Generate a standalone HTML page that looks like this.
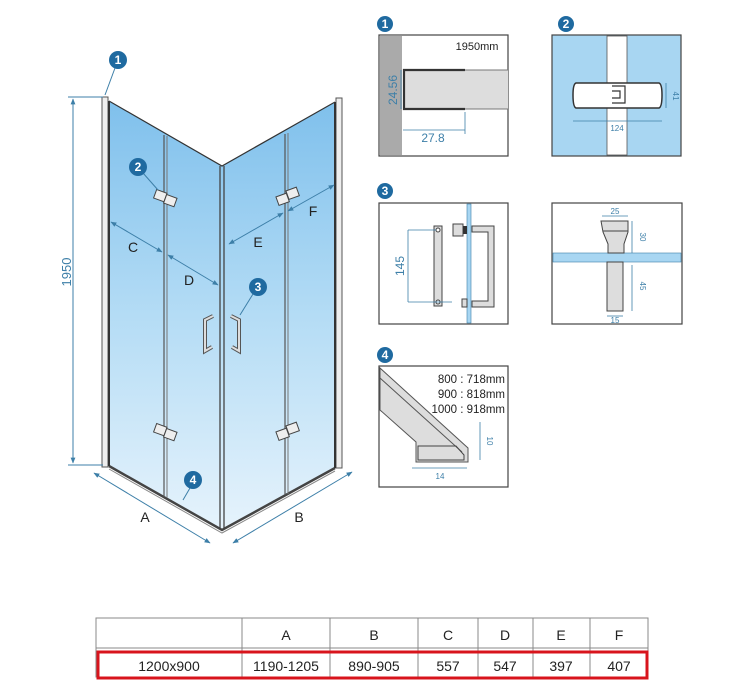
<!DOCTYPE html>
<html><head><meta charset="utf-8"><style>
html,body{margin:0;padding:0;background:#fff;}
svg{display:block;font-family:"Liberation Sans",Arial,sans-serif;}
</style></head><body>
<svg width="734" height="700" viewBox="0 0 734 700" xmlns="http://www.w3.org/2000/svg">
<defs>
<linearGradient id="g" x1="0" y1="0" x2="0" y2="1">
<stop offset="0" stop-color="#7fc0ec"/><stop offset="0.5" stop-color="#b4dcf5"/><stop offset="1" stop-color="#e6f3fc"/>
</linearGradient>
<marker id="ar" viewBox="0 0 10 10" refX="9" refY="5" markerWidth="6" markerHeight="6" orient="auto-start-reverse"><path d="M0,1 L10,5 L0,9 z" fill="#3d7fa8"/></marker>
</defs>

<!-- glass panels -->
<polygon points="109,101 222,166 222,530 109,466" fill="url(#g)"/>
<polygon points="222,166 335,102 335,468 222,530" fill="url(#g)"/>
<polyline points="109,101 222,166 335,102" fill="none" stroke="#333" stroke-width="1.2"/>
<polyline points="109,466 222,530 335,468" fill="none" stroke="#444" stroke-width="2.5"/>
<polyline points="109,469 222,533 335,471" fill="none" stroke="#888" stroke-width="1"/>
<!-- posts -->
<rect x="102" y="97" width="6" height="370" fill="#eee" stroke="#555" stroke-width="1"/>
<line x1="109" y1="101" x2="109" y2="466" stroke="#333" stroke-width="2"/>
<rect x="336" y="98" width="6" height="370" fill="#eee" stroke="#555" stroke-width="1"/>
<line x1="335" y1="102" x2="335" y2="468" stroke="#333" stroke-width="2"/>
<!-- center -->
<line x1="220" y1="166" x2="220" y2="529" stroke="#444" stroke-width="1.3"/>
<line x1="224" y1="166" x2="224" y2="529" stroke="#444" stroke-width="1.3"/>
<!-- fold lines -->
<line x1="164" y1="135" x2="164" y2="497" stroke="#555" stroke-width="1.2"/>
<line x1="167" y1="136" x2="167" y2="498" stroke="#777" stroke-width="1"/>
<line x1="285" y1="134" x2="285" y2="495" stroke="#555" stroke-width="1.2"/>
<line x1="288" y1="133" x2="288" y2="494" stroke="#777" stroke-width="1"/>
<!-- hinges -->
<g fill="#eee" stroke="#444" stroke-width="1">
<rect x="155" y="191" width="11" height="9" transform="rotate(20 160 195)"/>
<rect x="165" y="196" width="11" height="9" transform="rotate(20 170 200)"/>
<rect x="155" y="425" width="11" height="9" transform="rotate(20 160 429)"/>
<rect x="165" y="430" width="11" height="9" transform="rotate(20 170 434)"/>
<rect x="277" y="195" width="11" height="9" transform="rotate(-20 282 199)"/>
<rect x="287" y="189" width="11" height="9" transform="rotate(-20 292 193)"/>
<rect x="277" y="430" width="11" height="9" transform="rotate(-20 282 434)"/>
<rect x="287" y="424" width="11" height="9" transform="rotate(-20 292 428)"/>
</g>
<!-- handles -->
<path d="M213,316 L205,320 L205,351 L212,347" fill="none" stroke="#555" stroke-width="4"/>
<path d="M213,316 L205,320 L205,351 L212,347" fill="none" stroke="#ddd" stroke-width="2"/>
<path d="M231,316 L239,320 L239,351 L232,347" fill="none" stroke="#555" stroke-width="4"/>
<path d="M231,316 L239,320 L239,351 L232,347" fill="none" stroke="#ddd" stroke-width="2"/>

<!-- dimension 1950 -->
<g stroke="#3d7fa8" stroke-width="1">
<line x1="68" y1="97" x2="103" y2="97"/><line x1="68" y1="465" x2="103" y2="465"/>
<line x1="73" y1="99" x2="73" y2="463" marker-start="url(#ar)" marker-end="url(#ar)"/>
<line x1="94" y1="473" x2="210" y2="543" marker-start="url(#ar)" marker-end="url(#ar)"/>
<line x1="233" y1="543" x2="352" y2="472" marker-start="url(#ar)" marker-end="url(#ar)"/>
<line x1="111" y1="222" x2="162" y2="252" marker-start="url(#ar)" marker-end="url(#ar)"/>
<line x1="168" y1="255" x2="218" y2="285" marker-start="url(#ar)" marker-end="url(#ar)"/>
<line x1="229" y1="244" x2="283" y2="213" marker-start="url(#ar)" marker-end="url(#ar)"/>
<line x1="288" y1="211" x2="334" y2="185" marker-start="url(#ar)" marker-end="url(#ar)"/>
</g>
<text x="0" y="0" transform="translate(71,272) rotate(-90)" font-size="13" fill="#3d7fa8" text-anchor="middle">1950</text>
<g font-size="14" fill="#222" text-anchor="middle">
<text x="145" y="522">A</text><text x="299" y="522">B</text>
<text x="133" y="252">C</text><text x="189" y="285">D</text>
<text x="258" y="247">E</text><text x="313" y="216">F</text>
</g>
<!-- callouts -->
<g stroke="#3d7fa8" stroke-width="1">
<line x1="115" y1="68" x2="105" y2="95"/><line x1="143" y1="173" x2="158" y2="190"/>
<line x1="253" y1="294" x2="240" y2="315"/><line x1="190" y1="488" x2="183" y2="500"/>
</g>
<g fill="#1f6aa0">
<circle cx="118" cy="60" r="9"/><circle cx="138" cy="167" r="9"/>
<circle cx="258" cy="287" r="9"/><circle cx="193" cy="480" r="9"/>
<circle cx="385" cy="24" r="8"/><circle cx="566" cy="24" r="8"/>
<circle cx="385" cy="191" r="8"/><circle cx="385" cy="355" r="8"/>
</g>
<g fill="#fff" font-size="12" font-weight="bold" text-anchor="middle">
<text x="118" y="64">1</text><text x="138" y="171">2</text><text x="258" y="291">3</text><text x="193" y="484">4</text>
<text x="385" y="28">1</text><text x="566" y="28">2</text><text x="385" y="195">3</text><text x="385" y="359">4</text>
</g>

<!-- panel 1 -->
<rect x="379" y="35" width="129" height="121" fill="#fff" stroke="#444" stroke-width="1.2"/>
<rect x="380" y="36" width="22" height="119" fill="#aaa"/>
<rect x="405" y="70" width="103" height="39" fill="#ddd"/>
<line x1="405" y1="70" x2="508" y2="70" stroke="#777"/>
<line x1="405" y1="109" x2="508" y2="109" stroke="#777"/>
<path d="M465,70 L404,70 L404,109 L465,109" fill="none" stroke="#333" stroke-width="2.2"/>
<text x="477" y="50" font-size="11" fill="#222" text-anchor="middle">1950mm</text>
<g stroke="#3d7fa8" stroke-width="0.8"><line x1="401" y1="70" x2="401" y2="109"/><line x1="403" y1="130" x2="465" y2="130"/><line x1="465" y1="112" x2="465" y2="134"/></g>
<text transform="translate(397,90) rotate(-90)" font-size="12" fill="#3d7fa8" text-anchor="middle">24.56</text>
<text x="433" y="142" font-size="12" fill="#3d7fa8" text-anchor="middle">27.8</text>

<!-- panel 2 -->
<rect x="552" y="35" width="129" height="121" fill="#a8d6f2" stroke="#444" stroke-width="1.2"/>
<rect x="607" y="36" width="20" height="119" fill="#fff" stroke="#555" stroke-width="0.8"/>
<path d="M576,83 Q573,84 573,95 Q573,107 576,108 L659,108 Q662,107 662,95 Q662,84 659,83 Z" fill="#fff" stroke="#333" stroke-width="1.5"/>
<path d="M612,86 L625,86 L625,103 L612,103 M612,91 L620,91 L620,98 L612,98" fill="none" stroke="#333" stroke-width="1.2"/>
<g stroke="#3d7fa8" stroke-width="0.8"><line x1="573" y1="121" x2="662" y2="121"/><line x1="666" y1="83" x2="666" y2="108"/></g>
<text x="617" y="131" font-size="8" fill="#3d7fa8" text-anchor="middle">124</text>
<text transform="translate(673,96) rotate(90)" font-size="8" fill="#3d7fa8" text-anchor="middle">41</text>

<!-- panel 3 -->
<rect x="379" y="203" width="129" height="121" fill="#fff" stroke="#444" stroke-width="1.2"/>
<rect x="467" y="204" width="4" height="119" fill="#a8d6f2" stroke="#3d7fa8" stroke-width="0.6"/>
<rect x="434" y="226" width="8" height="80" fill="#ddd" stroke="#444"/>
<circle cx="438" cy="230" r="2" fill="#fff" stroke="#444"/><circle cx="438" cy="302" r="2" fill="#fff" stroke="#444"/>
<path d="M472,226 L494,226 L494,307 L472,307 L472,301 L488,301 L488,232 L472,232 Z" fill="#ddd" stroke="#444"/>
<rect x="453" y="224" width="10" height="12" fill="#ddd" stroke="#444"/>
<rect x="463" y="226" width="4" height="8" fill="#333"/>
<rect x="462" y="299" width="5" height="8" fill="#ddd" stroke="#444"/>
<g stroke="#3d7fa8" stroke-width="0.8"><line x1="408" y1="230" x2="436" y2="230"/><line x1="408" y1="302" x2="452" y2="302"/><line x1="408" y1="230" x2="408" y2="302"/></g>
<text transform="translate(404,266) rotate(-90)" font-size="12" fill="#3d7fa8" text-anchor="middle">145</text>

<!-- panel 5 -->
<rect x="552" y="203" width="130" height="121" fill="#fff" stroke="#444" stroke-width="1.2"/>
<rect x="553" y="253" width="128" height="9" fill="#a8d6f2" stroke="#3d7fa8" stroke-width="0.6"/>
<path d="M601,221 L628,221 L628,232 L624,244 L624,253 L608,253 L608,244 L603,232 Z" fill="#ddd" stroke="#444"/>
<line x1="603" y1="231" x2="628" y2="231" stroke="#444"/>
<rect x="607" y="262" width="16" height="49" fill="#ddd" stroke="#444"/>
<g stroke="#3d7fa8" stroke-width="0.8"><line x1="602" y1="216" x2="628" y2="216"/><line x1="632" y1="221" x2="632" y2="253"/><line x1="632" y1="265" x2="632" y2="311"/><line x1="607" y1="316" x2="623" y2="316"/></g>
<text x="615" y="214" font-size="8" fill="#3d7fa8" text-anchor="middle">25</text>
<text transform="translate(640,237) rotate(90)" font-size="8" fill="#3d7fa8" text-anchor="middle">30</text>
<text transform="translate(640,286) rotate(90)" font-size="8" fill="#3d7fa8" text-anchor="middle">45</text>
<text x="615" y="323" font-size="8" fill="#3d7fa8" text-anchor="middle">15</text>

<!-- panel 4 -->
<rect x="379" y="366" width="129" height="121" fill="#fff" stroke="#444" stroke-width="1.2"/>
<path d="M380,368 L468,448 L468,462 L416,462 L416,442 L380,410 Z" fill="#ddd" stroke="#555"/>
<line x1="380" y1="378" x2="462" y2="452" stroke="#555"/>
<path d="M418,446 L456,446 L464,455 L464,460 L418,460 Z" fill="none" stroke="#444"/>
<g stroke="#3d7fa8" stroke-width="0.8"><line x1="412" y1="468" x2="467" y2="468"/><line x1="480" y1="422" x2="480" y2="460"/></g>
<text x="440" y="479" font-size="8" fill="#3d7fa8" text-anchor="middle">14</text>
<text transform="translate(487,441) rotate(90)" font-size="8" fill="#3d7fa8" text-anchor="middle">10</text>
<g font-size="11.5" fill="#222" text-anchor="end">
<text x="505" y="383">800 : 718mm</text><text x="505" y="398">900 : 818mm</text><text x="505" y="413">1000 : 918mm</text>
</g>

<!-- table -->
<g stroke="#888" stroke-width="1" fill="none">
<rect x="96" y="618" width="552" height="59"/>
<line x1="96" y1="648" x2="648" y2="648"/>
<line x1="242" y1="618" x2="242" y2="677"/><line x1="330" y1="618" x2="330" y2="677"/>
<line x1="418" y1="618" x2="418" y2="677"/><line x1="478" y1="618" x2="478" y2="677"/>
<line x1="533" y1="618" x2="533" y2="677"/><line x1="590" y1="618" x2="590" y2="677"/>
</g>
<rect x="98" y="652" width="549" height="26" fill="none" stroke="#d8141c" stroke-width="3"/>
<g font-size="14" fill="#222" text-anchor="middle">
<text x="286" y="640">A</text><text x="374" y="640">B</text><text x="448" y="640">C</text>
<text x="505" y="640">D</text><text x="561" y="640">E</text><text x="619" y="640">F</text>
<text x="169" y="671">1200x900</text><text x="286" y="671">1190-1205</text><text x="374" y="671">890-905</text>
<text x="448" y="671">557</text><text x="505" y="671">547</text><text x="561" y="671">397</text><text x="619" y="671">407</text>
</g>
</svg>
</body></html>
